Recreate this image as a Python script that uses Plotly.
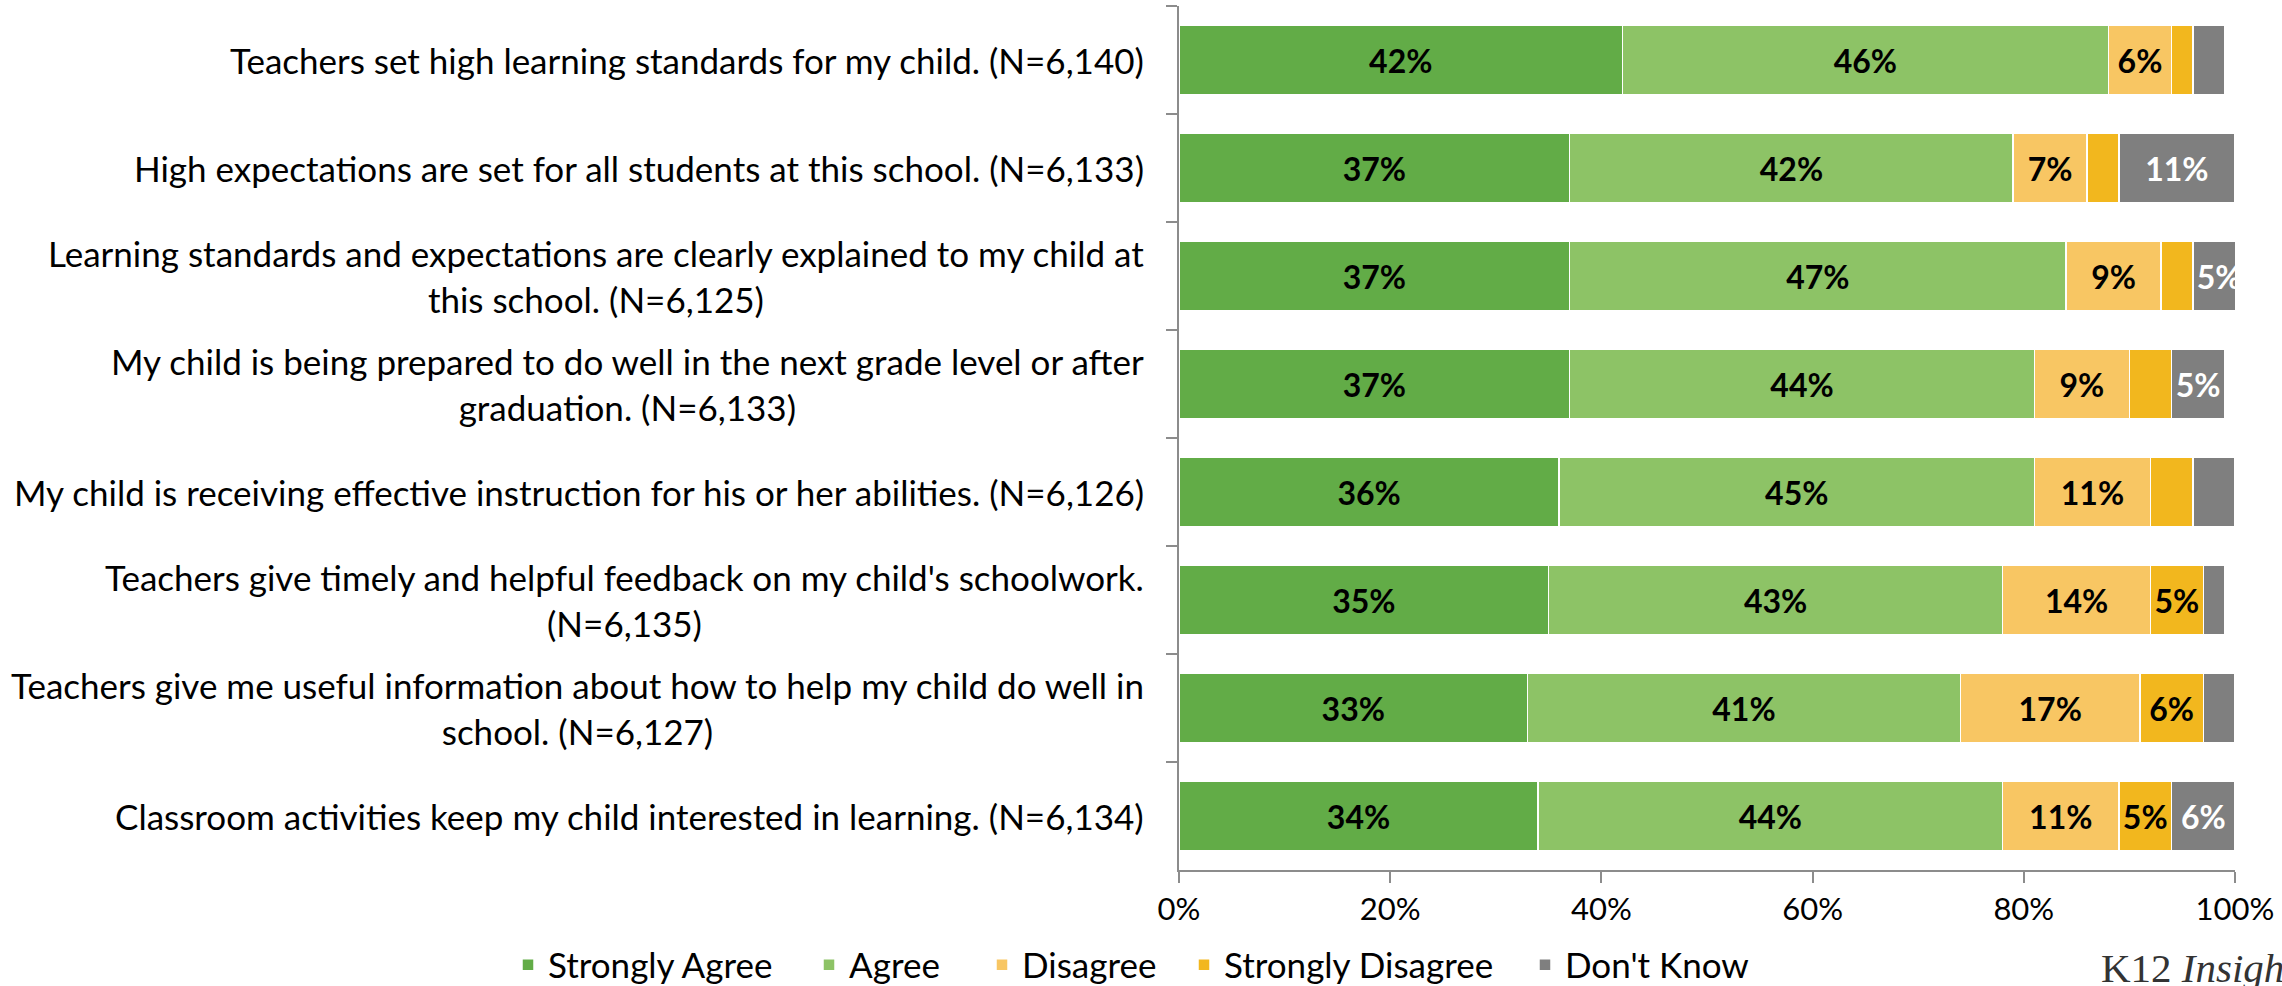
import plotly.graph_objects as go

# ---- data ----
questions = [
    "Teachers set high learning standards for my child. (N=6,140)",
    "High expectations are set for all students at this school. (N=6,133)",
    "Learning standards and expectations are clearly explained to my child at<br>this school. (N=6,125)",
    "My child is being prepared to do well in the next grade level or after<br>graduation. (N=6,133)",
    "My child is receiving effective instruction for his or her abilities. (N=6,126)",
    "Teachers give timely and helpful feedback on my child's schoolwork.<br>(N=6,135)",
    "Teachers give me useful information about how to help my child do well in<br>school. (N=6,127)",
    "Classroom activities keep my child interested in learning. (N=6,134)",
]
strongly_agree = [42, 37, 37, 37, 36, 35, 33, 34]
agree = [46, 42, 47, 44, 45, 43, 41, 44]
disagree = [6, 7, 9, 9, 11, 14, 17, 11]
strongly_disagree = [2, 3, 3, 4, 4, 5, 6, 5]
dont_know = [3, 11, 5, 5, 4, 2, 3, 6]

series = [
    ("Strongly Agree", strongly_agree, "#62AC47", "black"),
    ("Agree", agree, "#8DC366", "black"),
    ("Disagree", disagree, "#F8C663", "black"),
    ("Strongly Disagree", strongly_disagree, "#F2B71E", "black"),
    ("Don't Know", dont_know, "#7F7F7F", "white"),
]

W, H = 2282, 986
ML, MR, MT, MB = 1179, 47, 6, 116
PW, PH = W - ML - MR, H - MT - MB
axis_grey = "#8C8C8C"

# legend entries sit where the original's do (pixel x of each swatch)
legend_swatch_x = [528, 829, 1002, 1204, 1545]
legend_y = (MT + PH - 965) / PH

fig = go.Figure()
legend_cfg = {}
for i, (name, vals, color, tcolor) in enumerate(series):
    lg = "legend" if i == 0 else f"legend{i + 1}"
    fig.add_trace(go.Bar(
        y=questions, x=vals, name=name, orientation="h",
        marker=dict(color=color, line=dict(color="white", width=1.5)),
        width=0.65,
        text=[f"{v}%" if v >= 5 else "" for v in vals],
        textposition="inside", insidetextanchor="middle", textangle=0,
        constraintext="none",
        textfont=dict(family="Lato", size=32, color=tcolor, weight="bold"),
        hoverinfo="skip",
        legend=lg,
    ))
    legend_cfg[lg] = dict(
        orientation="h",
        x=(legend_swatch_x[i] - 20 - ML) / PW, xanchor="left",
        y=legend_y, yanchor="middle",
        font=dict(family="Lato", size=35, color="black"),
        bgcolor="rgba(0,0,0,0)",
    )

# category labels, lines centred on each other like the original
for q in questions:
    fig.add_annotation(
        xref="paper", x=0, xanchor="right", xshift=-33,
        yref="y", y=q, yanchor="middle",
        text=q, align="center", showarrow=False,
        font=dict(family="Lato", size=35, color="black"),
    )

fig.add_annotation(
    xref="paper", yref="paper", x=(2099 - ML) / PW, y=(MT + PH - 968) / PH,
    xanchor="left", yanchor="middle", showarrow=False,
    text="K12 <i>Insight</i>",
    font=dict(family="Liberation Serif", size=41, color="#333333"),
)

fig.update_layout(
    width=W, height=H,
    barmode="stack",
    plot_bgcolor="white", paper_bgcolor="white",
    margin=dict(l=ML, r=MR, t=MT, b=MB, autoexpand=False),
    font=dict(family="Lato", size=30, color="black"),
    xaxis=dict(
        range=[0, 100], dtick=20, ticksuffix="%",
        showgrid=False, zeroline=False, automargin=False,
        showline=True, linecolor=axis_grey, linewidth=2,
        ticks="outside", ticklen=11, tickcolor=axis_grey, tickwidth=2,
        tickfont=dict(family="Lato", size=31, color="black"),
    ),
    yaxis=dict(
        type="category", range=[7.5, -0.5], automargin=False,
        showticklabels=False, showgrid=False, zeroline=False,
        showline=True, linecolor=axis_grey, linewidth=2,
        ticks="outside", ticklen=11, tickcolor=axis_grey, tickwidth=2,
        tickson="boundaries",
    ),
    showlegend=True,
    **legend_cfg,
)

# drop the page's default body margin so the figure sits at the window's corner
fig.write_html(
    "out.html",
    config={"displayModeBar": False},
    post_script="document.body.style.margin='0';",
)
